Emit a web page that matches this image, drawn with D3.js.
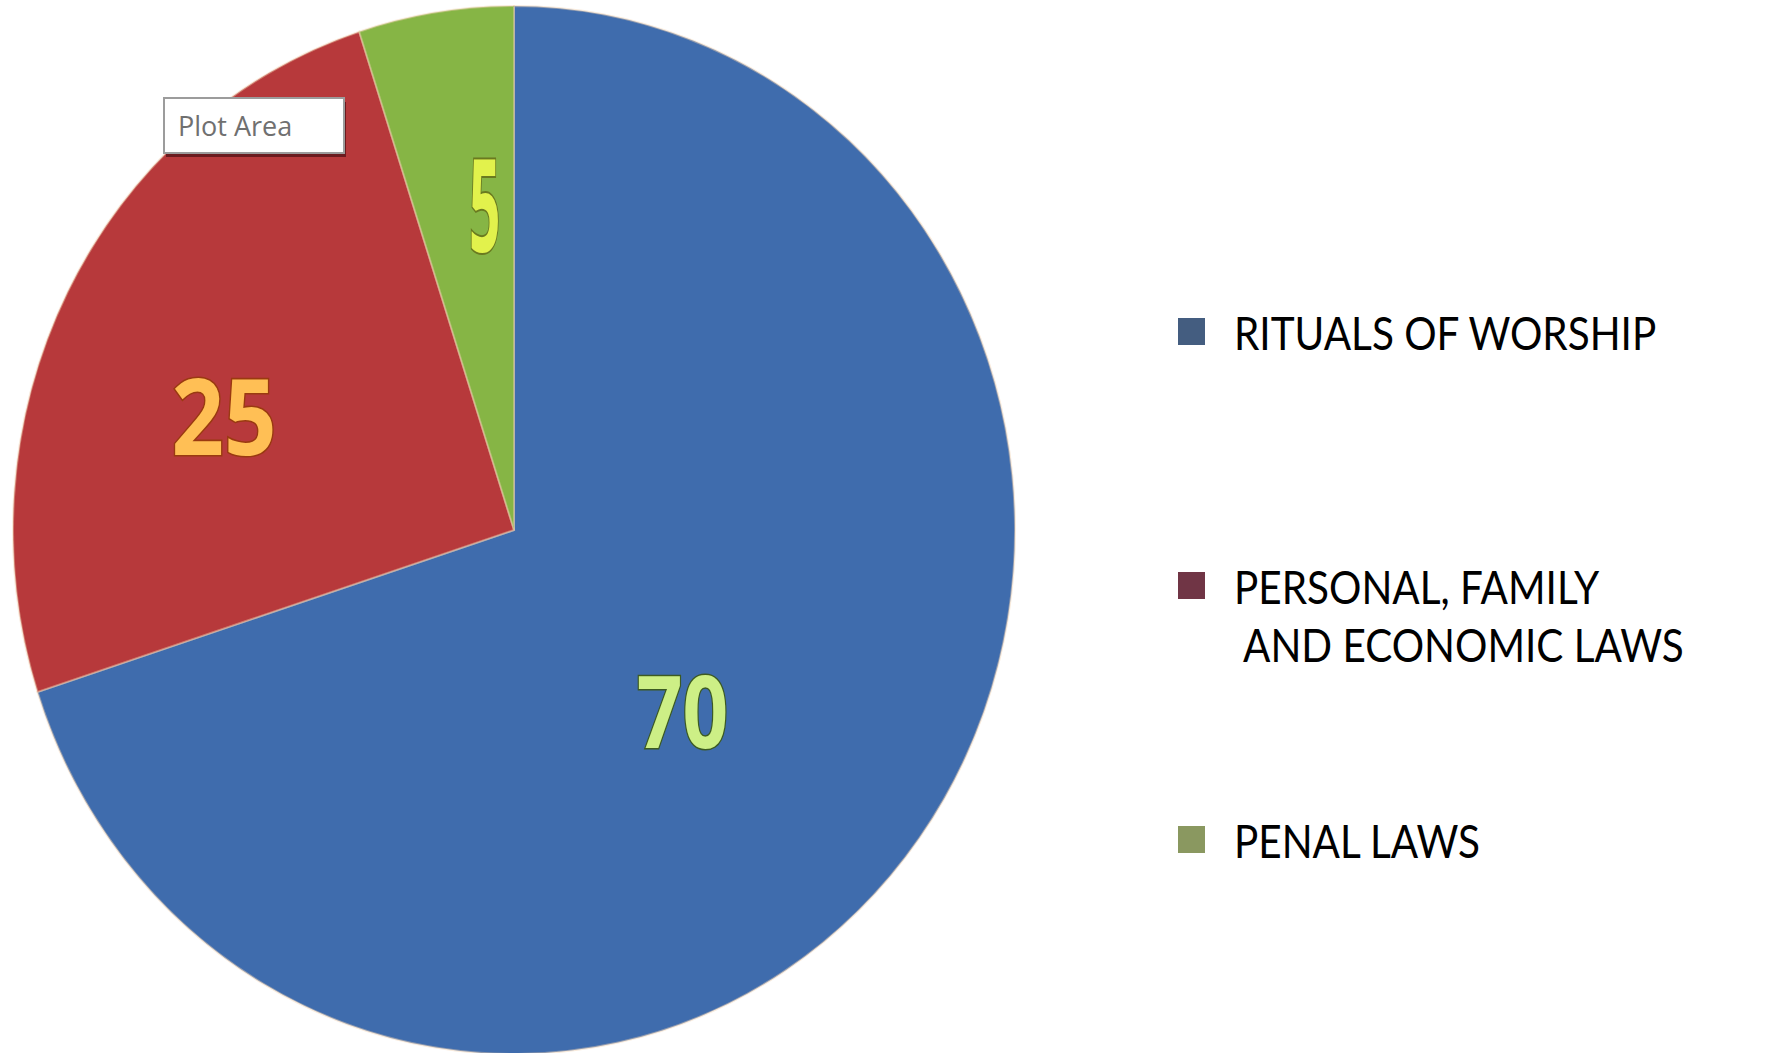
<!DOCTYPE html>
<html>
<head>
<meta charset="utf-8">
<script src="https://cdn.jsdelivr.net/npm/d3@7"></script>
<style>
  body { margin: 0; background: #ffffff; }
  svg { display: block; }
</style>
</head>
<body>
<script>
// chart data
const categories = ["RITUALS OF WORSHIP", "PERSONAL, FAMILY AND ECONOMIC LAWS", "PENAL LAWS"];
const values = [70, 25, 5];
const legendLines = [["RITUALS OF WORSHIP"], ["PERSONAL, FAMILY", "AND ECONOMIC LAWS"], ["PENAL LAWS"]];
const tooltipText = "Plot Area";

const width = 1767, height = 1053;
const cx = 514, cy = 530, rx = 501, ry = 524;

const sliceColor = d3.scaleOrdinal().domain(categories).range(["#3f6cad", "#b7393b", "#86b545"]);
const keyColor = d3.scaleOrdinal().domain(categories).range(["#445d80", "#703545", "#8a9860"]);
const labelFill = d3.scaleOrdinal().domain(categories).range(["#cdef86", "#ffbf55", "#e2f24c"]);
const labelStroke = d3.scaleOrdinal().domain(categories).range(["#3c5a22", "#9a3a10", "#6a7a20"]);
// horizontal / vertical stretch of each value label
const labelStretch = d3.scaleOrdinal().domain(categories).range([[0.8, 1], [0.92, 1.05], [0.55, 1.3]]);
// best-fit style placement: angle nudge (deg) and distance from centre
const labelTurn = d3.scaleOrdinal().domain(categories).range([9.5, -6, 3.7]);
const labelRadius = d3.scaleLinear().domain([5, 25, 70]).range([0.63, 0.62, 0.48]);

const svg = d3.select("body")
    .append("svg")
    .attr("width", width)
    .attr("height", height);

svg.append("rect")
    .attr("width", width)
    .attr("height", height)
    .attr("fill", "#ffffff");

const slices = categories.map((c, i) => ({ category: c, value: values[i] }));

const pie = d3.pie()
    .sort(null)
    .value(d => d.value);

const arcs = pie(slices);

const arc = d3.arc()
    .innerRadius(0)
    .outerRadius(rx);

// pie drawn as a circle then stretched to the ellipse of the picture
const pieG = svg.append("g")
    .attr("transform", `translate(${cx},${cy}) scale(1,${ry / rx})`);

pieG.selectAll("path")
    .data(arcs)
    .enter()
    .append("path")
    .attr("d", arc)
    .attr("fill", d => sliceColor(d.data.category))
    .attr("stroke", "#f0d0b0")
    .attr("stroke-opacity", 0.45)
    .attr("stroke-width", 2);

// value labels
svg.append("g")
    .selectAll("text")
    .data(arcs)
    .enter()
    .append("text")
    .attr("transform", d => {
        const a = (d.startAngle + d.endAngle) / 2 + labelTurn(d.data.category) * Math.PI / 180;
        const r = labelRadius(d.data.value);
        const x = cx + rx * r * Math.sin(a);
        const y = cy - ry * r * Math.cos(a);
        const [sx, sy] = labelStretch(d.data.category);
        return `translate(${x},${y}) scale(${sx},${sy})`;
    })
    .attr("text-anchor", "middle")
    .attr("dominant-baseline", "central")
    .attr("font-family", "'Open Sans', sans-serif")
    .attr("font-weight", 700)
    .attr("font-size", 100)
    .attr("fill", d => labelFill(d.data.category))
    .attr("stroke", d => labelStroke(d.data.category))
    .attr("stroke-width", 3)
    .attr("paint-order", "stroke")
    .text(d => d.data.value);

// "Plot Area" hover box
const tip = svg.append("g").attr("transform", "translate(164,98)");
tip.append("rect")
    .attr("x", 2).attr("y", 4)
    .attr("width", 180).attr("height", 55)
    .attr("fill", "#6b1b1f");
tip.append("rect")
    .attr("width", 180).attr("height", 55)
    .attr("fill", "#ffffff")
    .attr("stroke", "#9c9c9c")
    .attr("stroke-width", 2);
tip.append("text")
    .attr("x", 14).attr("y", 38)
    .attr("font-family", "'Open Sans', sans-serif")
    .attr("font-size", 27)
    .attr("fill", "#707070")
    .text(tooltipText);

// legend
const legendY = d3.scalePoint().domain(categories).range([350, 858]);

const legend = svg.append("g")
    .selectAll("g")
    .data(categories)
    .enter()
    .append("g")
    .attr("transform", d => `translate(0,${legendY(d)})`);

legend.append("rect")
    .attr("x", 1178)
    .attr("y", -32)
    .attr("width", 27)
    .attr("height", 27)
    .attr("fill", d => keyColor(d));

const legendText = legend.append("text")
    .attr("font-family", "Lato, sans-serif")
    .attr("font-size", 46)
    .attr("fill", "#000000");

legendText.selectAll("tspan")
    .data((d, i) => legendLines[i].map((t, j) => ({ t, j })))
    .enter()
    .append("tspan")
    .attr("x", d => d.j === 0 ? 1234 : 1243)
    .attr("y", d => d.j * 58)
    .text(d => d.t);

// squeeze text horizontally like the narrow source type
legendText.selectAll("tspan").each(function () {
    const w = this.getComputedTextLength();
    d3.select(this)
        .attr("textLength", w * 0.88)
        .attr("lengthAdjust", "spacingAndGlyphs");
});
</script>
</body>
</html>
